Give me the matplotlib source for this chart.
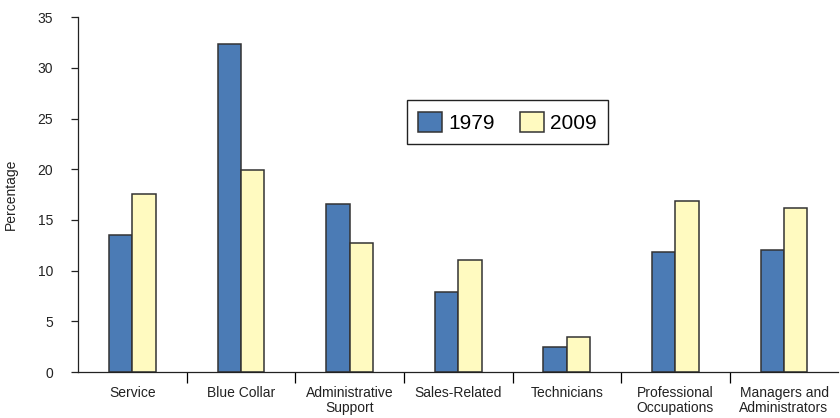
import matplotlib
matplotlib.use("Agg")
import matplotlib.pyplot as plt
import numpy as np

plt.rcParams['font.family'] = ['Liberation Sans', 'DejaVu Sans']

categories = ["Service", "Blue Collar", "Administrative\nSupport", "Sales-Related",
              "Technicians", "Professional\nOccupations", "Managers and\nAdministrators"]
share_1979 = [13.5, 32.4, 16.6, 7.9, 2.5, 11.8, 12.0]
share_2009 = [17.6, 19.9, 12.7, 11.0, 3.5, 16.9, 16.2]
years = ["1979", "2009"]
y_ticks = [0, 5, 10, 15, 20, 25, 30, 35]

blue = "#4b7bb5"
yellow = "#fffac0"
edge = "#333333"
text_col = "#222222"

fig = plt.figure(figsize=(8.4, 4.18), dpi=100)
ax = fig.add_axes([0.093, 0.110, 0.905, 0.849])

x = np.arange(len(categories))
w = 0.215
ax.bar(x - w / 2, share_1979, w, color=blue, edgecolor=edge, linewidth=1.1, label=years[0])
ax.bar(x + w / 2, share_2009, w, color=yellow, edgecolor=edge, linewidth=1.1, label=years[1])

ax.set_xlim(-0.5, len(categories) - 0.5)
ax.set_ylim(0, 35)
ax.set_yticks(y_ticks)
ax.tick_params(axis='y', direction='out', length=5, width=0.9, labelsize=10, pad=13, colors=text_col)

# category names sit between tick marks placed at the group boundaries
ax.set_xticks(np.arange(0.5, len(categories) - 0.5, 1.0))
ax.set_xticklabels([])
ax.set_xticks(x, minor=True)
ax.set_xticklabels(categories, minor=True, fontsize=10, color=text_col, linespacing=1.1)
ax.tick_params(axis='x', which='major', direction='out', length=8, width=0.9)
ax.tick_params(axis='x', which='minor', length=0, pad=10)

for s in ('top', 'right'):
    ax.spines[s].set_visible(False)
for s in ('left', 'bottom'):
    ax.spines[s].set_linewidth(0.9)
    ax.spines[s].set_color(text_col)

ax.set_ylabel("Percentage", fontsize=10, color=text_col, labelpad=14)

leg = ax.legend(loc='upper left', bbox_to_anchor=(0.432, 0.766), ncol=2, fontsize=15,
                frameon=True, fancybox=False, edgecolor=text_col, framealpha=1,
                handlelength=1.15, handleheight=1.1, handletextpad=0.3,
                columnspacing=1.2, borderpad=0.55, borderaxespad=0)
leg.get_frame().set_linewidth(1.0)

fig.savefig("out.png", dpi=100)
